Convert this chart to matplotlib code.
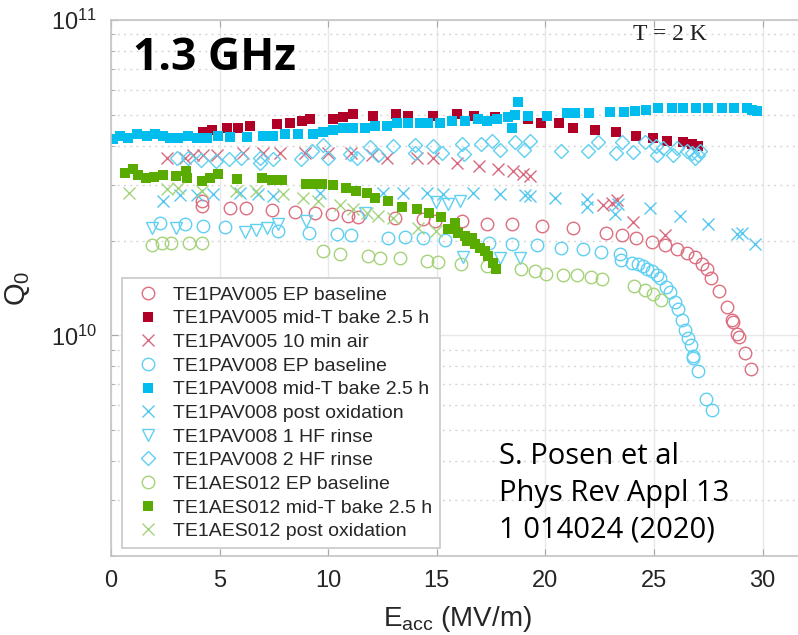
import matplotlib
matplotlib.use("Agg")
import matplotlib.pyplot as plt
import numpy as np
from matplotlib.ticker import LogLocator, LogFormatterMathtext, NullFormatter, FixedLocator

plt.rcParams['font.family'] = ['Liberation Sans', 'DejaVu Sans']
plt.rcParams['mathtext.fontset'] = 'custom'
plt.rcParams['mathtext.rm'] = 'Liberation Sans'
plt.rcParams['mathtext.it'] = 'Liberation Sans:italic'

# ---------------- data ----------------
labels = [
    "TE1PAV005 EP baseline",
    "TE1PAV005 mid-T bake 2.5 h",
    "TE1PAV005 10 min air",
    "TE1PAV008 EP baseline",
    "TE1PAV008 mid-T bake 2.5 h",
    "TE1PAV008 post oxidation",
    "TE1PAV008 1 HF rinse",
    "TE1PAV008 2 HF rinse",
    "TE1AES012 EP baseline",
    "TE1AES012 mid-T bake 2.5 h",
    "TE1AES012 post oxidation",
]

pav005_ep_E = [4.19, 4.19, 5.48, 6.22, 7.41, 8.47, 9.39, 10.17, 10.91, 11.37, 13.08, 14.36, 14.92, 16.16,
               17.31, 18.46, 19.84, 21.27, 22.79, 23.53, 24.17, 24.91, 25.51, 26.06, 26.52, 26.89, 27.21,
               27.44, 27.62, 27.99, 28.36, 28.59, 28.64, 28.82, 28.91, 29.19, 29.47]
pav005_ep_Q = [2.67e10, 2.58e10, 2.53e10, 2.53e10, 2.50e10, 2.46e10, 2.45e10, 2.43e10, 2.39e10, 2.38e10,
               2.36e10, 2.34e10, 2.31e10, 2.31e10, 2.26e10, 2.26e10, 2.22e10, 2.19e10, 2.11e10, 2.08e10,
               2.04e10, 1.98e10, 1.94e10, 1.88e10, 1.82e10, 1.77e10, 1.69e10, 1.62e10, 1.52e10, 1.38e10,
               1.23e10, 1.12e10, 1.10e10, 1.01e10, 9.9e9, 8.8e9, 7.85e9]

pav005_mt_E = [4.24, 4.65, 5.34, 5.85, 6.40, 7.64, 8.24, 8.79, 9.16, 10.22, 10.68, 11.14, 12.06, 13.12,
               13.67, 14.83, 15.93, 16.71, 17.68, 19.20, 19.80, 20.63, 21.27, 22.28, 23.25, 24.17, 24.95,
               25.60, 26.34, 26.75, 27.03]
pav005_mt_Q = [4.40e10, 4.47e10, 4.53e10, 4.53e10, 4.63e10, 4.67e10, 4.70e10, 4.77e10, 4.87e10, 4.87e10,
               4.91e10, 5.02e10, 4.95e10, 5.02e10, 4.95e10, 4.98e10, 5.02e10, 4.98e10, 4.91e10, 4.84e10,
               4.73e10, 4.70e10, 4.56e10, 4.47e10, 4.40e10, 4.30e10, 4.24e10, 4.15e10, 4.09e10, 4.06e10,
               4.00e10]

pav005_air_E = [2.58, 3.41, 3.78, 4.24, 4.88, 6.08, 7.00, 7.78, 8.93, 9.99, 11.05, 12.02, 12.71, 14.09,
                14.83, 15.93, 16.94, 17.82, 18.51, 18.97, 19.29, 22.65, 23.07, 23.30, 24.03, 25.51]
pav005_air_Q = [3.66e10, 3.66e10, 3.72e10, 3.72e10, 3.74e10, 3.80e10, 3.80e10, 3.80e10, 3.80e10, 3.80e10,
                3.80e10, 3.72e10, 3.66e10, 3.66e10, 3.64e10, 3.53e10, 3.45e10, 3.38e10, 3.31e10, 3.26e10,
                3.21e10, 2.59e10, 2.63e10, 2.69e10, 2.29e10, 2.08e10]

pav008_ep_E = [2.26, 3.41, 4.24, 5.25, 7.69, 9.12, 10.41, 11.05, 12.75, 13.54, 14.36, 15.38, 17.40, 18.46,
               19.61, 20.72, 21.73, 22.56, 23.43, 23.48, 23.99, 24.26, 24.49, 24.68, 24.91, 25.14, 25.28,
               25.55, 25.74, 25.97, 26.10, 26.29, 26.43, 26.57, 26.70, 26.80, 26.80, 27.03, 27.39, 27.67]
pav008_ep_Q = [2.27e10, 2.26e10, 2.22e10, 2.21e10, 2.14e10, 2.11e10, 2.10e10, 2.08e10, 2.04e10, 2.05e10,
               2.03e10, 2.01e10, 1.96e10, 1.95e10, 1.94e10, 1.89e10, 1.88e10, 1.84e10, 1.81e10, 1.73e10,
               1.70e10, 1.68e10, 1.66e10, 1.63e10, 1.60e10, 1.56e10, 1.52e10, 1.42e10, 1.37e10, 1.28e10,
               1.21e10, 1.12e10, 1.04e10, 9.8e9, 9.3e9, 8.6e9, 8.5e9, 7.7e9, 6.3e9, 5.8e9]

pav008_mt_E = [0.09, 0.41, 0.78, 1.20, 1.66, 2.03, 2.39, 2.72, 3.08, 3.55, 3.96, 4.42, 4.93, 5.48, 6.26,
               7.00, 7.46, 8.01, 8.61, 9.30, 9.76, 10.22, 10.68, 11.14, 11.69, 12.15, 12.71, 13.17, 13.67,
               14.23, 14.59, 15.15, 15.70, 16.30, 16.90, 17.31, 17.77, 18.28, 18.46, 18.60, 18.74, 19.20,
               20.07, 20.99, 21.36, 22.01, 22.97, 23.62, 24.13, 24.63, 25.18, 25.83, 26.34, 26.93, 27.49,
               28.13, 28.68, 29.28, 29.51, 29.74]
pav008_mt_Q = [4.21e10, 4.30e10, 4.24e10, 4.36e10, 4.30e10, 4.36e10, 4.30e10, 4.24e10, 4.24e10, 4.30e10,
               4.24e10, 4.24e10, 4.30e10, 4.27e10, 4.27e10, 4.30e10, 4.30e10, 4.36e10, 4.36e10, 4.36e10,
               4.40e10, 4.47e10, 4.53e10, 4.56e10, 4.56e10, 4.63e10, 4.63e10, 4.70e10, 4.70e10, 4.70e10,
               4.73e10, 4.73e10, 4.80e10, 4.80e10, 4.87e10, 4.80e10, 4.87e10, 4.91e10, 4.53e10, 5.00e10,
               5.48e10, 4.95e10, 4.98e10, 5.06e10, 5.06e10, 5.06e10, 5.10e10, 5.10e10, 5.14e10, 5.20e10,
               5.25e10, 5.28e10, 5.25e10, 5.25e10, 5.25e10, 5.25e10, 5.28e10, 5.25e10, 5.17e10, 5.14e10]

pav008_ox_E = [2.39, 3.18, 3.96, 4.70, 5.94, 6.77, 7.46, 9.62, 12.52, 13.44, 14.55, 15.29, 16.67, 17.91,
               19.06, 19.29, 20.44, 21.92, 21.92, 23.20, 23.34, 24.82, 26.20, 27.49, 28.82, 29.05, 29.65]
pav008_ox_Q = [2.67e10, 2.79e10, 2.79e10, 2.81e10, 2.83e10, 2.81e10, 2.77e10, 2.83e10, 2.83e10, 2.83e10,
               2.83e10, 2.81e10, 2.83e10, 2.81e10, 2.79e10, 2.77e10, 2.73e10, 2.71e10, 2.56e10, 2.43e10,
               2.61e10, 2.54e10, 2.39e10, 2.26e10, 2.10e10, 2.12e10, 1.95e10]

pav008_hf1_E = [1.89, 2.99, 6.17, 6.68, 7.18, 7.69, 8.98, 11.69, 14.96, 15.52, 16.07, 16.21, 17.91, 18.83]
pav008_hf1_Q = [2.19e10, 2.19e10, 2.13e10, 2.16e10, 2.19e10, 2.26e10, 2.31e10, 2.45e10, 2.64e10, 2.62e10,
                2.67e10, 1.77e10, 1.76e10, 1.76e10]

pav008_hf2_E = [3.04, 3.55, 4.14, 4.83, 5.43, 5.99, 6.86, 6.86, 7.46, 8.75, 9.25, 9.76, 9.99, 11.00, 11.33,
                11.92, 12.29, 12.98, 14.00, 14.00, 14.83, 15.24, 16.16, 16.25, 17.04, 17.54, 17.91, 18.60,
                19.01, 19.29, 20.72, 21.96, 22.42, 23.25, 23.53, 24.03, 24.59, 25.09, 25.14, 25.41, 25.87,
                26.06, 26.52, 26.75, 26.89, 27.03, 27.12]
pav008_hf2_Q = [3.66e10, 3.66e10, 3.60e10, 3.58e10, 3.63e10, 3.66e10, 3.66e10, 3.53e10, 3.63e10, 3.63e10,
                3.85e10, 4.03e10, 3.66e10, 3.77e10, 3.66e10, 3.97e10, 3.72e10, 4.00e10, 4.03e10, 3.80e10,
                4.00e10, 3.80e10, 4.06e10, 3.77e10, 4.06e10, 4.12e10, 3.88e10, 4.09e10, 3.88e10, 4.15e10,
                3.85e10, 3.85e10, 4.09e10, 3.80e10, 4.09e10, 3.82e10, 4.09e10, 4.00e10, 3.74e10, 3.94e10,
                3.74e10, 3.94e10, 3.85e10, 3.80e10, 3.66e10, 3.72e10, 3.85e10]

aes012_ep_E = [1.89, 2.35, 2.76, 3.59, 4.19, 9.76, 10.54, 11.83, 12.38, 13.31, 14.55, 15.06, 16.11, 17.31,
               18.88, 19.52, 20.03, 20.81, 21.45, 22.10, 22.61, 24.08, 24.59, 24.95, 25.32]
aes012_ep_Q = [1.94e10, 1.96e10, 1.96e10, 1.96e10, 1.96e10, 1.85e10, 1.81e10, 1.79e10, 1.76e10, 1.76e10,
               1.72e10, 1.71e10, 1.68e10, 1.66e10, 1.62e10, 1.60e10, 1.57e10, 1.56e10, 1.55e10, 1.53e10,
               1.51e10, 1.43e10, 1.39e10, 1.35e10, 1.30e10]

aes012_mt_E = [0.64, 1.01, 1.24, 1.61, 1.98, 2.39, 2.99, 3.45, 3.50, 4.19, 4.56, 4.93, 5.80, 6.95, 7.41,
               7.87, 8.98, 9.35, 9.71, 10.22, 10.82, 11.28, 11.79, 12.15, 12.75, 13.40, 14.09, 14.64, 15.19,
               15.52, 15.84, 15.98, 16.30, 16.39, 16.62, 16.76, 16.99, 17.22, 17.36, 17.59, 17.73]
aes012_mt_Q = [3.28e10, 3.38e10, 3.23e10, 3.16e10, 3.18e10, 3.23e10, 3.21e10, 3.33e10, 3.16e10, 3.09e10,
               3.16e10, 3.26e10, 3.14e10, 3.16e10, 3.12e10, 3.12e10, 3.03e10, 3.03e10, 3.03e10, 2.99e10,
               2.94e10, 2.88e10, 2.83e10, 2.73e10, 2.67e10, 2.56e10, 2.52e10, 2.45e10, 2.38e10, 2.17e10,
               2.27e10, 2.11e10, 2.07e10, 1.99e10, 2.04e10, 1.95e10, 1.89e10, 1.85e10, 1.78e10, 1.70e10,
               1.63e10]

aes012_ox_E = [0.83, 2.58, 3.08, 4.19, 5.76, 6.68, 7.92, 8.84, 9.53, 10.54, 11.14, 11.79, 12.29, 12.98,
               14.13, 14.96]
aes012_ox_Q = [2.83e10, 2.92e10, 2.94e10, 2.88e10, 2.88e10, 2.88e10, 2.81e10, 2.73e10, 2.67e10, 2.59e10,
               2.52e10, 2.45e10, 2.39e10, 2.36e10, 2.19e10, 2.14e10]

x_ticks = [0, 5, 10, 15, 20, 25, 30]

# ---------------- figure ----------------
fig = plt.figure(figsize=(7.98, 6.35), dpi=100)
W, H = 798, 635
ax_left, ax_top, ax_bottom = 111, 20, 556
px_per_unit = 21.72
xmax = 32.5
ax_right = ax_left + xmax * px_per_unit
ax = fig.add_axes([ax_left / W, 1 - ax_bottom / H, (ax_right - ax_left) / W, (ax_bottom - ax_top) / H])

red_o = '#dd6f80'
dred = '#b00028'
red_x = '#d86a80'
blue_o = '#5fd0f2'
cyan = '#00bdee'
blue_x = '#55c8f0'
green_o = '#a5d37a'
green_s = '#5aab00'
green_x = '#a6d47e'

series = [
    (pav005_ep_E, pav005_ep_Q, dict(marker='o', mfc='none', mec=red_o, ms=9, mew=1.0)),
    (pav005_mt_E, pav005_mt_Q, dict(marker='s', mfc=dred, mec=dred, ms=6.5, mew=0)),
    (pav005_air_E, pav005_air_Q, dict(marker='x', mec=red_x, ms=8, mew=1.0)),
    (pav008_ep_E, pav008_ep_Q, dict(marker='o', mfc='none', mec=blue_o, ms=9, mew=1.0)),
    (pav008_mt_E, pav008_mt_Q, dict(marker='s', mfc=cyan, mec=cyan, ms=6.5, mew=0)),
    (pav008_ox_E, pav008_ox_Q, dict(marker='x', mec=blue_x, ms=8, mew=1.0)),
    (pav008_hf1_E, pav008_hf1_Q, dict(marker='v', mfc='none', mec=blue_o, ms=9, mew=1.0)),
    (pav008_hf2_E, pav008_hf2_Q, dict(marker='D', mfc='none', mec=blue_o, ms=7.5, mew=1.0)),
    (aes012_ep_E, aes012_ep_Q, dict(marker='o', mfc='none', mec=green_o, ms=9, mew=1.0)),
    (aes012_mt_E, aes012_mt_Q, dict(marker='s', mfc=green_s, mec=green_s, ms=6.5, mew=0)),
    (aes012_ox_E, aes012_ox_Q, dict(marker='x', mec=green_x, ms=8, mew=1.0)),
]
for (E, Q, st), lab in zip(series, labels):
    ax.plot(E, Q, linestyle='none', label=lab, **st)

ax.set_yscale('log')
ax.set_ylim(2e9, 1e11)
ax.set_xlim(0, xmax)
ax.xaxis.set_major_locator(FixedLocator(x_ticks))
ax.yaxis.set_major_locator(LogLocator(base=10, numticks=5))
ax.yaxis.set_major_formatter(LogFormatterMathtext())
ax.yaxis.set_minor_locator(LogLocator(base=10, subs=np.arange(2, 10), numticks=20))
ax.yaxis.set_minor_formatter(NullFormatter())

spine_c = '#c4c4c4'
for s in ['left', 'bottom', 'top']:
    ax.spines[s].set_color(spine_c)
    ax.spines[s].set_linewidth(1.2)
ax.spines['right'].set_visible(False)

ax.tick_params(which='both', direction='in', color='#a8a8a8', top=True, right=False)
ax.tick_params(which='major', length=5, labelsize=17, labelcolor='#262626', pad=10)
ax.tick_params(which='minor', length=3)

ax.grid(True, which='major', axis='both', color='#e8e8e8', linewidth=1.0, linestyle='-')
ax.grid(True, which='minor', axis='y', color='#d6d6d6', linewidth=1.0, linestyle=(0, (1.5, 3)))
ax.set_axisbelow(True)

ax.set_xlabel(r'$\mathregular{E_{acc}}$ (MV/m)', fontsize=20, color='#262626', labelpad=4)
ax.set_ylabel(r'$\mathregular{Q_0}$', fontsize=21, color='#262626', labelpad=8)
ax.xaxis.set_label_coords((457 - ax_left) / (ax_right - ax_left), -0.09)
ax.yaxis.set_label_coords(-0.112, (556 - 288) / (556 - 20))

leg = ax.legend(loc='upper left', bbox_to_anchor=(122 / W, 1 - 278 / H), bbox_transform=fig.transFigure,
                borderaxespad=0, fontsize=14, numpoints=1, labelspacing=0.31, handletextpad=0.4,
                handlelength=1.8, borderpad=0.42, fancybox=False, framealpha=1, edgecolor='#c8c8c8')
leg.get_frame().set_linewidth(1.2)
for t in leg.get_texts():
    t.set_color('#262626')

fig.text(133 / W, 1 - 59 / H, '1.3 GHz', fontsize=32, fontweight='bold', family='Open Sans',
         color='black', va='center', ha='left')
fig.text(633 / W, 1 - 35 / H, 'T = 2 K', fontsize=17, family='Liberation Serif', color='#202020',
         va='center', ha='left')
for txt, yy in [('S. Posen et al', 457), ('Phys Rev Appl 13', 493), ('1 014024 (2020)', 530)]:
    fig.text(499 / W, 1 - yy / H, txt, fontsize=21, family='Open Sans', color='black',
             va='center', ha='left')

fig.savefig('out.png', dpi=100)
